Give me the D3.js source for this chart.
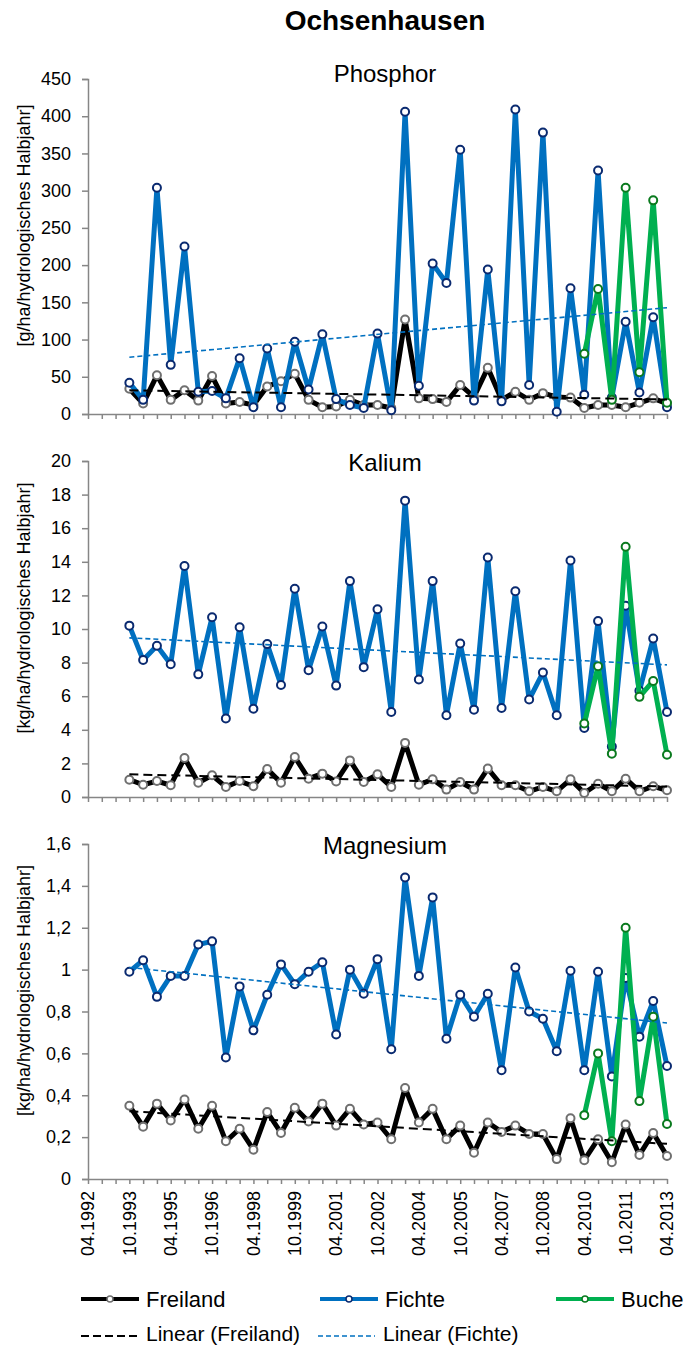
<!DOCTYPE html>
<html>
<head>
<meta charset="utf-8">
<script src="https://cdn.jsdelivr.net/npm/d3@7"></script>
<style>
  body { margin: 0; background: #fff; }
  svg { display: block; font-family: "Liberation Sans", Arial, sans-serif; }
  .axis path, .axis line { stroke: #868686; stroke-width: 1.5; }
  .axis text { font-size: 18px; fill: #000; font-family: "Liberation Sans", Arial, sans-serif; }
</style>
</head>
<body>
<svg id="chart" width="699" height="1349"></svg>
<script>
// half-year index: 0 = 04.1992, 1 = 10.1992, ... 42 = 04.2013
var idxMain = d3.range(3, 43);   // 10.1993 .. 04.2013
var idxBuche = d3.range(36, 43); // 04.2010 .. 04.2013

var phosFichte = [42, 19, 304, 66, 225, 30, 31, 21, 75, 9, 88, 9, 97, 33, 107, 20, 12, 8, 108, 5,
  406, 38, 202, 176, 355, 18, 194, 17, 409, 39, 378, 3, 169, 26, 327, 22, 124, 29, 130, 9];
var phosFreiland = [34, 14, 52, 19, 32, 18, 51, 14, 16, 12, 37, 44, 54, 19, 9, 10, 19, 12, 12, 8,
  127, 21, 20, 16, 39, 23, 62, 19, 30, 19, 28, 23, 22, 8, 12, 12, 9, 15, 21, 14];
var phosBuche = [81, 168, 19, 304, 56, 287, 15];

var kalFichte = [10.2, 8.15, 9.0, 7.9, 13.75, 7.3, 10.7, 4.67, 10.1, 5.25, 9.1, 6.67, 12.4, 7.55, 10.15, 6.63, 12.85, 7.73, 11.18, 5.06,
  17.64, 6.99, 12.85, 4.87, 9.14, 5.2, 14.26, 5.3, 12.25, 5.8, 7.41, 4.87, 14.08, 4.11, 10.47, 3.0, 11.38, 6.32, 9.43, 5.06];
var kalFreiland = [1.03, 0.73, 0.95, 0.7, 2.32, 0.85, 1.29, 0.6, 0.95, 0.64, 1.67, 0.85, 2.38, 1.09, 1.39, 0.93, 2.18, 0.89, 1.35, 0.6,
  3.22, 0.73, 1.05, 0.44, 0.89, 0.44, 1.69, 0.7, 0.7, 0.34, 0.6, 0.34, 1.05, 0.24, 0.79, 0.34, 1.09, 0.34, 0.64, 0.4];
var kalBuche = [4.37, 7.79, 2.58, 14.9, 5.96, 6.91, 2.52];

var magFichte = [0.99, 1.045, 0.87, 0.97, 0.97, 1.12, 1.135, 0.58, 0.92, 0.71, 0.88, 1.025, 0.93, 0.99, 1.035, 0.69, 1.0, 0.885, 1.05, 0.62,
  1.44, 0.97, 1.345, 0.67, 0.88, 0.775, 0.885, 0.52, 1.01, 0.8, 0.765, 0.61, 0.995, 0.52, 0.99, 0.49, 0.96, 0.68, 0.85, 0.54];
var magFreiland = [0.35, 0.25, 0.36, 0.28, 0.38, 0.24, 0.35, 0.18, 0.24, 0.14, 0.32, 0.22, 0.34, 0.275, 0.36, 0.255, 0.335, 0.26, 0.27, 0.19,
  0.435, 0.27, 0.335, 0.19, 0.255, 0.125, 0.27, 0.225, 0.255, 0.215, 0.215, 0.095, 0.29, 0.09, 0.19, 0.08, 0.26, 0.115, 0.22, 0.11];
var magBuche = [0.305, 0.6, 0.18, 1.2, 0.372, 0.775, 0.263];

var panelNames = ["Phosphor", "Kalium", "Magnesium"];
var unitLabels = ["[g/ha/hydrologisches Halbjahr]", "[kg/ha/hydrologisches Halbjahr]", "[kg/ha/hydrologisches Halbjahr]"];
var yMaxes = [450, 20, 1.6];
var ySteps = [50, 2, 0.2];

var svg = d3.select("#chart");
var deFormat = d3.formatLocale({decimal: ",", thousands: ".", grouping: [3], currency: ["", " €"]}).format(".1~f");

var x = d3.scaleLinear().domain([0, 42]).range([88, 667]);

var colFreiland = "#000000", colFichte = "#0070C0", colBuche = "#00B050";
var mkFreiland = "#6f6f6f", mkFichte = "#0a2a70", mkBuche = "#0a7a1e";

svg.append("text").attr("x", 385).attr("y", 30).attr("text-anchor", "middle")
  .style("font-size", "28px").style("font-weight", "bold").text("Ochsenhausen");

var panels = [
  {name: panelNames[0], unit: unitLabels[0], max: yMaxes[0], step: ySteps[0], y0: 414, y1: 79, titleY: 82,
    fr: phosFreiland, fi: phosFichte, bu: phosBuche},
  {name: panelNames[1], unit: unitLabels[1], max: yMaxes[1], step: ySteps[1], y0: 797, y1: 461, titleY: 471,
    fr: kalFreiland, fi: kalFichte, bu: kalBuche},
  {name: panelNames[2], unit: unitLabels[2], max: yMaxes[2], step: ySteps[2], y0: 1179, y1: 844, titleY: 854,
    fr: magFreiland, fi: magFichte, bu: magBuche}
];

// least squares, like the "Linear" trend lines of the original
function linreg(xs, ys) {
  var mx = d3.mean(xs), my = d3.mean(ys);
  var num = d3.sum(xs, function(v, i) { return (v - mx) * (ys[i] - my); });
  var den = d3.sum(xs, function(v) { return (v - mx) * (v - mx); });
  var b = num / den;
  return function(v) { return my + b * (v - mx); };
}

panels.forEach(function(p, pi) {
  var y = d3.scaleLinear().domain([0, p.max]).range([p.y0, p.y1]);
  var g = svg.append("g");

  g.append("text").attr("x", 385).attr("y", p.titleY).attr("text-anchor", "middle")
    .style("font-size", "24px").text(p.name);

  g.append("text")
    .attr("transform", "translate(24," + ((p.y0 + p.y1) / 2 - 21) + ") rotate(-90)")
    .attr("text-anchor", "middle").attr("dy", "0.35em")
    .style("font-size", "18px").text(p.unit);

  g.append("g").attr("class", "axis")
    .attr("transform", "translate(" + x(0) + ",0)")
    .call(d3.axisLeft(y).tickValues(d3.range(0, p.max + p.step / 2, p.step)).tickSize(6).tickPadding(11).tickFormat(deFormat));

  g.append("g").attr("class", "axis")
    .attr("transform", "translate(0," + p.y0 + ")")
    .call(d3.axisBottom(x).tickValues(d3.range(0, 43)).tickSize(5).tickSizeOuter(0).tickFormat(""));

  var line = d3.line().x(function(d) { return x(d[0]); }).y(function(d) { return y(d[1]); });

  function series(idx, vals, col, mk) {
    var pts = idx.map(function(v, i) { return [v, vals[i]]; });
    g.append("path").datum(pts).attr("d", line).attr("fill", "none")
      .attr("stroke", col).attr("stroke-width", 5).attr("stroke-linejoin", "round");
    g.selectAll(null).data(pts).enter().append("circle")
      .attr("cx", function(d) { return x(d[0]); })
      .attr("cy", function(d) { return y(d[1]); })
      .attr("r", 4).attr("fill", "#fff").attr("stroke", mk).attr("stroke-width", 2);
  }
  series(idxMain, p.fr, colFreiland, mkFreiland);
  series(idxMain, p.fi, colFichte, mkFichte);
  series(idxBuche, p.bu, colBuche, mkBuche);

  function trend(vals, col, w, dash) {
    var f = linreg(idxMain, vals);
    var pts = [[3, f(3)], [42, f(42)]];
    g.append("path").datum(pts).attr("d", line).attr("fill", "none")
      .attr("stroke", col).attr("stroke-width", w).attr("stroke-dasharray", dash);
  }
  trend(p.fr, colFreiland, 2, "9,5");
  trend(p.fi, colFichte, 1.6, "5,3");

  if (pi === 2) {
    var labIdx = d3.range(0, 43, 3);
    g.selectAll(null).data(labIdx).enter().append("text")
      .attr("transform", function(d) { return "translate(" + x(d) + ",1191) rotate(-90)"; })
      .attr("text-anchor", "end").attr("dy", "0.35em")
      .style("font-size", "18px")
      .text(function(d) {
        return (d % 2 === 0 ? "04." : "10.") + (1992 + Math.floor(d / 2));
      });
  }
});

// legend
var legRows = [
  {x: 81, y: 1299, col: colFreiland, mk: mkFreiland, label: "Freiland"},
  {x: 320, y: 1299, col: colFichte, mk: mkFichte, label: "Fichte"},
  {x: 556, y: 1299, col: colBuche, mk: mkBuche, label: "Buche"}
];
legRows.forEach(function(l) {
  svg.append("line").attr("x1", l.x).attr("x2", l.x + 58).attr("y1", l.y).attr("y2", l.y)
    .attr("stroke", l.col).attr("stroke-width", 4);
  svg.append("circle").attr("cx", l.x + 29).attr("cy", l.y).attr("r", 3)
    .attr("fill", "#fff").attr("stroke", l.mk).attr("stroke-width", 1.5);
  svg.append("text").attr("x", l.x + 65).attr("y", l.y).attr("dy", "0.35em")
    .style("font-size", "22px").text(l.label);
});
var legTrend = [
  {x: 81, y: 1336, col: colFreiland, w: 2, dash: "8,4", label: "Linear (Freiland)"},
  {x: 318, y: 1336, col: colFichte, w: 1.5, dash: "5,3", label: "Linear (Fichte)"}
];
legTrend.forEach(function(l) {
  svg.append("line").attr("x1", l.x).attr("x2", l.x + 57).attr("y1", l.y).attr("y2", l.y)
    .attr("stroke", l.col).attr("stroke-width", l.w).attr("stroke-dasharray", l.dash);
  svg.append("text").attr("x", l.x + 65).attr("y", l.y + 5)
    .style("font-size", "21px").text(l.label);
});
</script>
</body>
</html>
